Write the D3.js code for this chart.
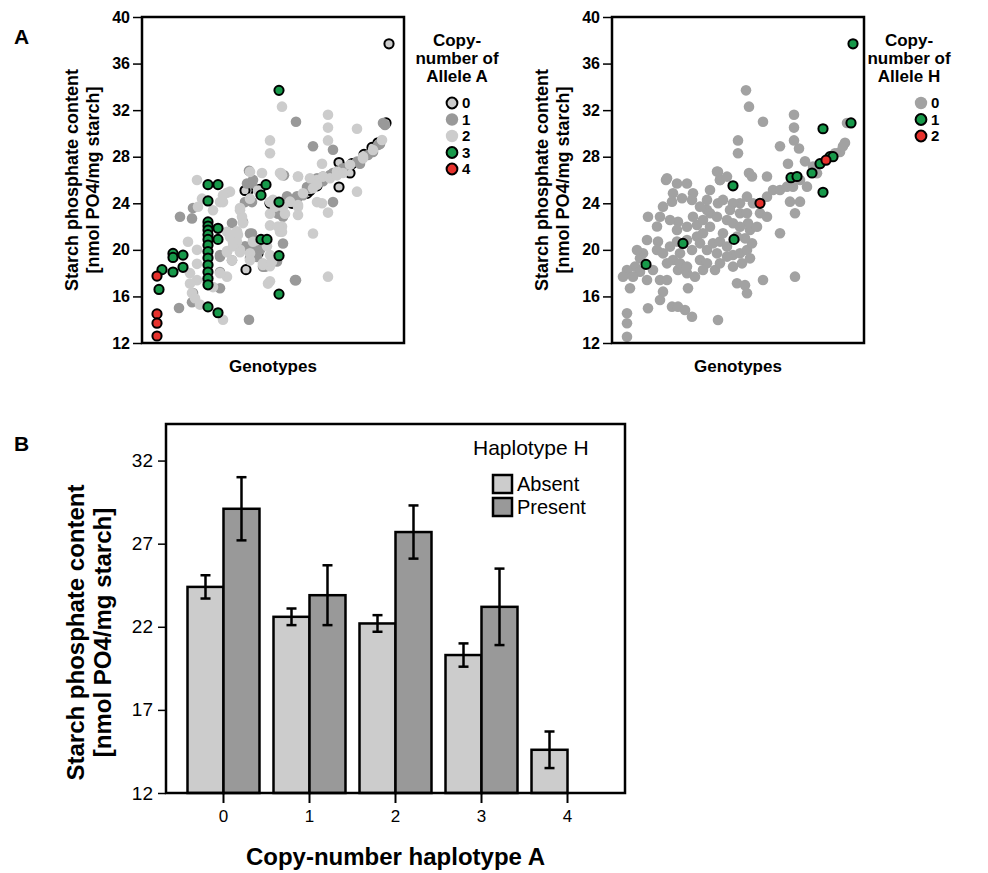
<!DOCTYPE html>
<html>
<head>
<meta charset="utf-8">
<script src="https://cdn.jsdelivr.net/npm/d3@7"></script>
<style>
  body { margin: 0; background: #fff; }
  text { font-family: "Liberation Sans", Arial, Helvetica, sans-serif; }
</style>
</head>
<body>
<svg id="fig" width="988" height="873"></svg>
<script>
// ---- Panel A: genotypes ranked along x, starch phosphate content on y ----
let yTicksA = [12, 16, 20, 24, 28, 32, 36, 40];

// copy-number of allele A (left plot), [genotype rank, nmol PO4/mg starch]
let alleleA0 = [[247,37.7],[244,30.9],[236,29.2],[197,27.5],[210,27.4],[208,26.6],[106,25.1],[104,18.3],[116,19.7],
  [150,24.0],[165,24.85],[168,25.1],[197,25.4],[118,25.2],[128,24.0],[175,25.5],[222,28.2],[230,28.8],[103,25.1]];
let alleleA1 = [[154,31.0],[241,30.9],[171,28.9],[191,28.6],[238,29.1],[231,28.4],[218,27.4],[107,26.8],[142,26.4],
  [51,23.6],[38,22.85],[50,22.7],[50,15.5],[37,15.0],[107,14.0],[110,25.7],[110,24.1],[145,24.6],[161,24.7],[191,24.1],
  [90,22.3],[101,22.4],[110,21.4],[111,20.7],[90,19.1],[78,18.1],[78,16.7],[121,18.55],[141,20.55],[141,22.85],
  [154,17.4],[181,26.3],[191,26.6],[136,23.1],[103,20.3],[115,19.4],[118,20.0],[135,19.0],[78,19.4],[51,16.3],
  [175,26.15],[188,26.43],[201,27.0],[215,27.58],[226,28.15],[236,29.0],[243,30.73],[155,24.4],[168,25.3],[181,25.9],
  [105,25.7],[111,26.0],[103,24.1],[108,21.4],[111,20.1],[108,19.3],[78,19.55],[123,18.55],[153,17.4],[165,25.4],[155,24.6]];
let alleleA2 = [[140,32.3],[186,31.6],[186,30.5],[215,30.4],[128,29.4],[128,28.3],[186,29.4],[221,28.0],[180,27.4],
  [139,26.6],[156,26.3],[55,26.0],[85,24.9],[81,24.1],[88,25.0],[60,24.4],[56,23.7],[46,20.7],[55,20.0],[48,18.0],
  [55,17.4],[50,16.3],[53,15.85],[58,15.3],[81,14.0],[131,24.3],[156,23.7],[156,23.0],[215,25.0],[180,24.0],[186,23.2],
  [171,21.4],[95,21.6],[95,20.7],[98,20.0],[85,19.8],[85,17.7],[121,18.7],[128,19.55],[125,20.3],[140,22.0],[140,21.55],
  [128,22.1],[186,17.7],[128,17.3],[120,26.6],[140,26.4],[156,26.3],[175,26.0],[201,26.6],[141,23.7],[98,23.4],
  [100,22.85],[71,23.4],[85,21.55],[88,21.1],[91,20.3],[108,19.7],[108,19.1],[128,18.6],[65,17.4],[71,16.8],[55,18.8],
  [48,17.1],[168,26.15],[181,26.29],[195,26.72],[208,27.3],[221,27.86],[231,28.58],[240,29.44],[148,24.14],[161,24.86],
  [175,25.6],[188,26.15],[195,26.4],[108,26.7],[116,25.1],[108,24.4],[81,24.7],[78,24.1],[98,23.6],[101,22.3],[96,21.3],
  [111,20.7],[91,20.6],[98,19.8],[90,19.1],[85,19.9],[121,18.85],[130,19.0],[138,21.55],[136,22.0],[133,23.7],[143,23.1],
  [156,23.85],[126,17.1],[78,18.0],[138,26.6],[171,25.3],[175,24.1],[128,24.1],[128,23.1]];
let alleleA3 = [[137,33.7],[66,25.6],[76,25.6],[66,24.2],[124,25.6],[119,24.7],[137,24.1],
  [66,22.4],[66,22.05],[66,21.7],[66,21.3],[66,20.9],[66,20.4],[66,19.85],[66,19.3],[66,18.7],[66,18.1],[66,17.55],[66,17.0],
  [76,21.85],[76,20.9],[66,15.1],[76,14.6],[31,19.7],[31,19.35],[41,19.55],[20,18.3],[31,18.1],[41,18.5],[17,16.6],
  [119,20.9],[125,20.9],[137,19.5],[137,16.2]];
let alleleA4 = [[15,17.75],[15,14.5],[15,13.7],[15,12.6]];

// copy-number of allele H (right plot)
let alleleH0 = [[235,30.9],[134,33.7],[137,32.3],[151,31.0],[182,31.6],[182,30.5],[182,29.4],[187,28.7],[126,29.4],
  [126,28.3],[168,28.9],[176,27.4],[193,27.6],[228,28.4],[233,29.2],[231,28.9],[223,28.3],[201,27.15],[106,26.7],
  [137,26.6],[155,26.3],[54,26.0],[140,26.3],[108,26.0],[55,26.15],[65,25.7],[75,25.7],[81,24.86],[70,24.43],[61,24.86],
  [60,24.14],[51,23.71],[48,22.85],[36,22.85],[66,22.42],[65,21.71],[75,21.99],[85,22.14],[91,21.42],[98,21.99],
  [85,21.14],[75,20.85],[65,20.71],[58,20.28],[46,20.71],[45,19.99],[51,19.7],[31,19.7],[28,19.27],[23,18.56],[15,18.27],
  [11,17.7],[18,16.7],[28,18.13],[41,18.27],[48,17.41],[55,17.41],[51,16.41],[48,15.69],[60,15.12],[66,15.12],[73,14.84],
  [80,14.26],[36,14.98],[15,14.55],[15,13.69],[15,12.54],[66,18.27],[75,17.99],[83,17.7],[76,16.7],[61,19.13],[68,18.84],
  [88,19.13],[95,19.99],[105,19.7],[101,20.56],[108,20.71],[115,20.28],[121,19.56],[128,19.7],[135,19.99],[140,20.56],
  [138,21.71],[136,22.28],[128,23.14],[128,24.0],[135,24.57],[141,24.0],[148,23.14],[155,22.85],[155,24.57],[161,25.14],
  [168,25.14],[175,25.43],[181,25.43],[188,26.0],[195,25.43],[205,26.58],[178,24.14],[188,24.14],[183,23.14],[168,21.42],
  [138,19.27],[121,18.56],[125,17.13],[135,16.27],[151,17.41],[183,17.7],[106,13.98],[103,18.27],[95,23.43],[98,25.14],
  [108,26.0],[105,26.72],[115,26.29],[121,24.0],[115,22.57],[121,22.28],[128,21.99],[95,24.29],[98,23.14],[106,24.0],
  [111,24.29],[88,23.71],[80,24.29],[133,16.97],[108,18.84],[115,19.42],[95,18.84],[91,18.27],[130,18.84],[133,20.99],
  [118,23.43],[135,23.14],[125,21.14],[145,21.99],[111,21.42],[105,22.85],[91,22.57],[81,22.85],[80,19.99],[68,19.7],
  [88,20.56],[58,22.57],[45,22.0],[35,20.85],[25,19.99],[21,17.7],[35,17.41],[55,18.84],[75,18.56]];
let alleleH1 = [[241,37.7],[239,30.9],[211,30.4],[208,27.4],[218,28.0],[221,28.0],[121,25.5],[179,26.2],[185,26.3],
  [200,26.6],[211,24.95],[71,20.55],[122,20.9],[34,18.75]];
let alleleH2 = [[214,27.7],[148,24.0]];

// ---- Panel B: mean +/- error per copy-number of haplotype A ----
let copyNumbers = ["0", "1", "2", "3", "4"];
let haplotypes = ["Absent", "Present"];
let absentMean = [24.4, 22.6, 22.2, 20.3, 14.6];
let absentErr = [0.7, 0.5, 0.5, 0.7, 1.1];
let presentMean = [29.1, 23.9, 27.7, 23.2, null];
let presentErr = [1.9, 1.8, 1.6, 2.3, null];
let yTicksB = [12, 17, 22, 27, 32];

let colorLight = "#cccccc", colorDark = "#999999", colorGrayH = "#a2a2a2";
let colorGreen = "#17994a", colorRed = "#e6322d";

let svg = d3.select("#fig");

// scatter panel with frame, y axis, labels and legend
function drawScatter(left, right, xMax, layers, titleLines, legendX, itemX) {
  let top = 17, bottom = 343;
  let x = d3.scaleLinear().domain([0, xMax]).range([left, right]);
  let y = d3.scaleLinear().domain([12, 40]).range([bottom, top]);
  let g = svg.append("g");

  layers.forEach(function(layer) {
    g.append("g").selectAll("circle")
      .data(layer.points).enter()
      .append("circle")
      .attr("cx", d => x(d[0]))
      .attr("cy", d => y(d[1]))
      .attr("r", layer.stroke ? 4.6 : 5.3)
      .attr("fill", layer.fill)
      .attr("stroke", layer.stroke ? "#000" : "none")
      .attr("stroke-width", 2);
  });

  g.append("rect")
    .attr("x", left).attr("y", top)
    .attr("width", right - left).attr("height", bottom - top)
    .attr("fill", "none").attr("stroke", "#000").attr("stroke-width", 2.5);

  let ax = g.append("g")
    .attr("transform", "translate(" + left + ",0)")
    .call(d3.axisLeft(y).tickValues(yTicksA).tickSize(9).tickPadding(3).tickSizeOuter(0));
  ax.select(".domain").remove();
  ax.selectAll(".tick line").attr("stroke-width", 1.5);
  ax.selectAll("text").attr("font-size", 16).attr("font-weight", "bold").attr("fill", "#000");

  let yl = g.append("text")
    .attr("transform", "translate(" + (left - 64) + "," + ((top + bottom) / 2) + ") rotate(-90)")
    .attr("text-anchor", "middle").attr("font-size", 18).attr("font-weight", "bold");
  yl.append("tspan").attr("x", 0).attr("y", 0).text("Starch phosphate content");
  yl.append("tspan").attr("x", 0).attr("y", 21).text("[nmol PO4/mg starch]");

  g.append("text")
    .attr("x", (left + right) / 2).attr("y", 372)
    .attr("text-anchor", "middle").attr("font-size", 17).attr("font-weight", "bold")
    .text("Genotypes");

  // legend
  let lt = g.append("text").attr("text-anchor", "middle").attr("font-size", 17).attr("font-weight", "bold");
  titleLines.forEach(function(t, i) {
    lt.append("tspan").attr("x", legendX).attr("y", 46 + i * 18).text(t);
  });
  let items = g.selectAll(".leg").data(layers.slice().sort((a, b) => a.key - b.key)).enter()
    .append("g").attr("class", "leg")
    .attr("transform", (d, i) => "translate(" + itemX + "," + (103 + i * 16.5) + ")");
  items.append("circle")
    .attr("r", d => d.stroke ? 5.4 : 6.2)
    .attr("fill", d => d.fill)
    .attr("stroke", d => d.stroke ? "#000" : "none")
    .attr("stroke-width", 2);
  items.append("text")
    .attr("x", 10).attr("dy", "0.36em")
    .attr("font-size", 15).attr("font-weight", "bold")
    .text(d => d.key);
}

drawScatter(142, 404, 262, [
  { key: 0, points: alleleA0, fill: colorLight, stroke: true },
  { key: 1, points: alleleA1, fill: colorDark, stroke: false },
  { key: 2, points: alleleA2, fill: colorLight, stroke: false },
  { key: 3, points: alleleA3, fill: colorGreen, stroke: true },
  { key: 4, points: alleleA4, fill: colorRed, stroke: true }
], ["Copy-", "number of", "Allele A"], 457, 452);

drawScatter(612, 864, 252, [
  { key: 0, points: alleleH0, fill: colorGrayH, stroke: false },
  { key: 1, points: alleleH1, fill: colorGreen, stroke: true },
  { key: 2, points: alleleH2, fill: colorRed, stroke: true }
], ["Copy-", "number of", "Allele H"], 909, 921);

// panel letters
svg.append("text").attr("x", 14).attr("y", 44).attr("font-size", 21).attr("font-weight", "bold").text("A");
svg.append("text").attr("x", 14).attr("y", 451).attr("font-size", 21).attr("font-weight", "bold").text("B");

// ---- Panel B bars ----
let bLeft = 166, bRight = 625, bTop = 424, bBottom = 793;
let xB = d3.scaleBand().domain(copyNumbers).range([bLeft, bRight]).paddingInner(0.163).paddingOuter(0.25);
let xSub = d3.scaleBand().domain(haplotypes).range([0, xB.bandwidth()]);
let yB = d3.scaleLinear().domain([12, 34.2]).range([bBottom, bTop]);

let barRows = [];
copyNumbers.forEach(function(c, i) {
  barRows.push({ cn: c, hap: "Absent", mean: absentMean[i], err: absentErr[i], fill: colorLight });
  if (presentMean[i] != null) {
    barRows.push({ cn: c, hap: "Present", mean: presentMean[i], err: presentErr[i], fill: colorDark });
  }
});

let gB = svg.append("g");
let bars = gB.selectAll(".bar").data(barRows).enter().append("g").attr("class", "bar");
bars.append("rect")
  .attr("x", d => xB(d.cn) + xSub(d.hap))
  .attr("y", d => yB(d.mean))
  .attr("width", xSub.bandwidth())
  .attr("height", d => yB(12) - yB(d.mean))
  .attr("fill", d => d.fill)
  .attr("stroke", "#000").attr("stroke-width", 2.5);

let cx = d => xB(d.cn) + xSub(d.hap) + xSub.bandwidth() / 2;
bars.append("line")
  .attr("x1", cx).attr("x2", cx)
  .attr("y1", d => yB(d.mean + d.err)).attr("y2", d => yB(d.mean - d.err))
  .attr("stroke", "#000").attr("stroke-width", 2.5);
[1, -1].forEach(function(s) {
  bars.append("line")
    .attr("x1", d => cx(d) - 5).attr("x2", d => cx(d) + 5)
    .attr("y1", d => yB(d.mean + s * d.err)).attr("y2", d => yB(d.mean + s * d.err))
    .attr("stroke", "#000").attr("stroke-width", 2.5);
});

gB.append("rect")
  .attr("x", bLeft).attr("y", bTop)
  .attr("width", bRight - bLeft).attr("height", bBottom - bTop)
  .attr("fill", "none").attr("stroke", "#000").attr("stroke-width", 2.5);

let axB = gB.append("g")
  .attr("transform", "translate(" + bLeft + ",0)")
  .call(d3.axisLeft(yB).tickValues(yTicksB).tickSize(8).tickPadding(5).tickSizeOuter(0));
axB.select(".domain").remove();
axB.selectAll(".tick line").attr("stroke-width", 1.5);
axB.selectAll("text").attr("font-size", 19).attr("fill", "#000");

let axBx = gB.append("g")
  .attr("transform", "translate(0," + bBottom + ")")
  .call(d3.axisBottom(xB).tickSize(10).tickPadding(7).tickSizeOuter(0));
axBx.select(".domain").remove();
axBx.selectAll(".tick line").attr("stroke-width", 2);
axBx.selectAll("text").attr("font-size", 17).attr("fill", "#000");

let ylB = gB.append("text")
  .attr("transform", "translate(84," + ((bTop + bBottom) / 2 + 24) + ") rotate(-90)")
  .attr("text-anchor", "middle").attr("font-size", 24).attr("font-weight", "bold");
ylB.append("tspan").attr("x", 0).attr("y", 0).text("Starch phosphate content");
ylB.append("tspan").attr("x", 0).attr("y", 27).text("[nmol PO4/mg starch]");

gB.append("text")
  .attr("x", (bLeft + bRight) / 2).attr("y", 865)
  .attr("text-anchor", "middle").attr("font-size", 24).attr("font-weight", "bold")
  .text("Copy-number haplotype A");

// legend B
gB.append("text").attr("x", 473).attr("y", 455).attr("font-size", 21).text("Haplotype H");
let legB = gB.selectAll(".legB").data(haplotypes).enter().append("g")
  .attr("class", "legB")
  .attr("transform", (d, i) => "translate(493," + (475 + i * 23) + ")");
legB.append("rect")
  .attr("width", 19).attr("height", 18)
  .attr("fill", (d, i) => i == 0 ? colorLight : colorDark)
  .attr("stroke", "#000").attr("stroke-width", 2.5);
legB.append("text")
  .attr("x", 24).attr("y", 16)
  .attr("font-size", 20)
  .text(d => d);
</script>
</body>
</html>
